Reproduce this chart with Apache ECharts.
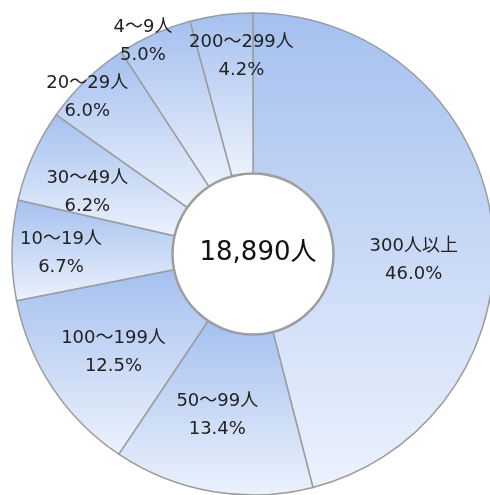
<!DOCTYPE html>
<html>
<head>
<meta charset="utf-8">
<script src="https://cdn.jsdelivr.net/npm/echarts@6/dist/echarts.min.js"></script>
<style>
html,body{margin:0;padding:0;background:#fff;}
#chart{width:490px;height:495px;}
</style>
</head>
<body>
<div id="chart"></div>
<script>
// Data
const categories = ['300人以上', '50～99人', '100～199人', '10～19人', '30～49人', '20～29人', '4～9人', '200～299人'];
const shares = [46.0, 13.4, 12.5, 6.7, 6.2, 6.0, 5.0, 4.2];
const totalLabel = '18,890人';

// Label nudges (styling only, px)
const labelShift = [[-2, 27], [-8, 0], [-3, 7], [-28, 2], [-16, 5], [-52, -39], [-43, -63], [10, -35]];

const chart = echarts.init(document.getElementById('chart'));
const grad = {
  type: 'linear', x: 0, y: 0, x2: 0, y2: 1,
  colorStops: [{offset: 0, color: '#a5c0ef'}, {offset: 1, color: '#ecf2fd'}]
};
const data = categories.map((c, i) => ({
  name: c,
  value: shares[i],
  label: {offset: labelShift[i]}
}));
chart.setOption({
  animation: false,
  series: [{
    type: 'pie',
    center: [253, 254],
    radius: [81, 241],
    startAngle: 90,
    clockwise: true,
    avoidLabelOverlap: false,
    labelLayout: {hideOverlap: false},
    itemStyle: {color: grad, borderColor: '#9c9c9c', borderWidth: 1.5},
    label: {
      show: true,
      position: 'inside',
      formatter: p => p.name + '\n' + p.value.toFixed(1) + '%',
      fontFamily: '"DejaVu Sans", "Noto Sans CJK JP", sans-serif',
      fontSize: 18,
      lineHeight: 28,
      color: '#222'
    },
    labelLine: {show: false},
    emphasis: {disabled: true},
    data: data
  }],
  graphic: [{
    type: 'circle',
    shape: {cx: 253, cy: 254, r: 80},
    style: {fill: '#ffffff', stroke: '#9c9c9c', lineWidth: 1.5},
    z: 1
  }, {
    type: 'text',
    x: 258, y: 253,
    style: {
      text: totalLabel,
      fontFamily: '"DejaVu Sans", "Noto Sans CJK JP", sans-serif',
      fontSize: 26,
      fill: '#111',
      align: 'center',
      verticalAlign: 'middle'
    },
    z: 2
  }]
});
</script>
</body>
</html>
